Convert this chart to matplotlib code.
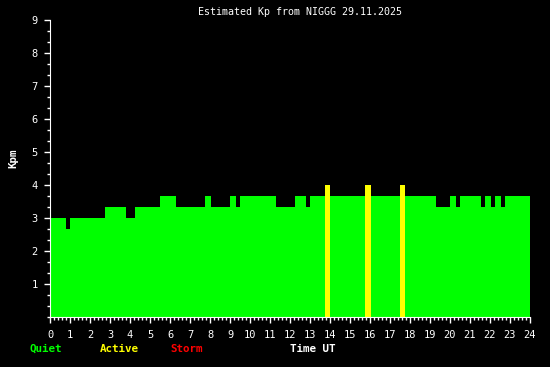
import matplotlib

matplotlib.use("Agg")
import matplotlib.pyplot as plt
from matplotlib.ticker import MultipleLocator

# start of each interval (hours UT) and the estimated Kp over it
seg_start = [0.0, 0.8, 1.0, 2.75, 3.8, 4.25, 5.5, 6.3, 7.75, 8.05, 9.0, 9.3,
             9.5, 11.3, 12.25, 12.8, 13.0, 13.75, 14.0, 15.75, 16.05, 17.5,
             17.75, 19.3, 20.0, 20.3, 20.5, 21.55, 21.75, 22.05, 22.25,
             22.55, 22.75]
kp = [3, 2.667, 3, 3.333, 3, 3.333, 3.667, 3.333, 3.667, 3.333, 3.667, 3.333,
      3.667, 3.333, 3.667, 3.333, 3.667, 4, 3.667, 4, 3.667, 4, 3.667,
      3.333, 3.667, 3.333, 3.667, 3.333, 3.667, 3.333, 3.667, 3.333, 3.667]
day_end = 24.0

x_ticks = list(range(25))
y_ticks = list(range(1, 10))
title = "Estimated Kp from NIGGG 29.11.2025"


def kp_color(v):
    if v >= 5:
        return "#ff0000"
    if v >= 4:
        return "#ffff00"
    return "#00ff00"


def main():
    mono = "DejaVu Sans Mono"
    edges = seg_start + [day_end]
    widths = [edges[i + 1] - edges[i] for i in range(len(seg_start))]
    colors = [kp_color(v) for v in kp]

    fig = plt.figure(figsize=(5.5, 3.67), dpi=100, facecolor="black")
    ax = fig.add_axes([50 / 550, 50 / 367, 480 / 550, 297 / 367])
    ax.set_facecolor("black")

    ax.bar(seg_start, kp, width=widths, align="edge", color=colors,
           linewidth=0, antialiased=False)

    ax.set_xlim(0, 24)
    ax.set_ylim(0, 9)
    ax.set_xticks(x_ticks)
    ax.set_xticklabels([str(t) for t in x_ticks], family=mono, fontsize=7.5)
    ax.set_yticks(y_ticks)
    ax.set_yticklabels([str(t) for t in y_ticks], family=mono, fontsize=7.5)
    ax.xaxis.set_minor_locator(MultipleLocator(0.2))
    ax.yaxis.set_minor_locator(MultipleLocator(1 / 3))

    ax.tick_params(which="both", colors="white", direction="out", width=1)
    ax.tick_params(which="major", length=4, pad=5)
    ax.tick_params(which="minor", length=2.2)

    for side in ["top", "right"]:
        ax.spines[side].set_visible(False)
    for side in ["left", "bottom"]:
        ax.spines[side].set_color("white")

    fig.text(300 / 550, 1 - 12 / 367, title, color="white", family=mono,
             fontsize=7.2, ha="center", va="center")
    fig.text(13 / 550, 1 - 158 / 367, "Kpm", color="white", family=mono,
             fontsize=7.8, fontweight="bold", rotation=90,
             ha="center", va="center")

    legend_y = 1 - 349 / 367
    fig.text(30 / 550, legend_y, "Quiet", color="#00ff00", family=mono,
             fontsize=7.8, fontweight="bold", va="center")
    fig.text(100 / 550, legend_y, "Active", color="#ffff00", family=mono,
             fontsize=7.8, fontweight="bold", va="center")
    fig.text(170 / 550, legend_y, "Storm", color="#ff0000", family=mono,
             fontsize=7.8, fontweight="bold", va="center")
    fig.text(290 / 550, legend_y, "Time UT", color="white", family=mono,
             fontsize=7.8, fontweight="bold", va="center")

    fig.savefig("out.png", dpi=100, facecolor="black")


if __name__ == "__main__":
    main()
